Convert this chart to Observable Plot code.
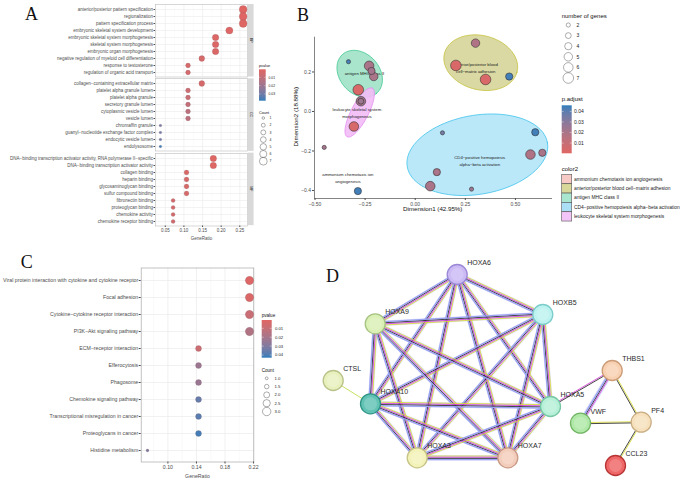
<!DOCTYPE html>
<html>
<head>
<meta charset="utf-8">
<script src="https://cdn.jsdelivr.net/npm/d3@7"></script>
<script src="https://cdn.jsdelivr.net/npm/@observablehq/plot@0.6"></script>
<style>
html,body{margin:0;padding:0;background:#fff;}
#root{position:relative;width:685px;height:481px;overflow:hidden;background:#fff;font-family:"Liberation Sans",Arial,sans-serif;}
#root svg{display:block;overflow:visible;}
</style>
</head>
<body>
<div id="root"></div>
<script>
// ================= DATA =================
// Panel A : GO enrichment (BP / CC / MF)
const bpTerms = ["anterior/posterior pattern specification","regionalization","pattern specification process","embryonic skeletal system development","embryonic skeletal system morphogenesis","skeletal system morphogenesis","embryonic organ morphogenesis","negative regulation of myeloid cell differentiation","response to testosterone","regulation of organic acid transport"];
const bpRatio = [0.259,0.259,0.259,0.222,0.185,0.185,0.185,0.148,0.111,0.111];
const bpCount = [7,7,7,6,5,5,5,4,3,3];
const bpP = [0.0006,0.0008,0.0009,0.0015,0.002,0.002,0.0022,0.004,0.004,0.005];

const ccTerms = ["collagen\u2212containing extracellular matrix","platelet alpha granule lumen","platelet alpha granule","secretory granule lumen","cytoplasmic vesicle lumen","vesicle lumen","chromaffin granule","guanyl\u2212nucleotide exchange factor complex","endocytic vesicle lumen","endolysosome"];
const ccRatio = [0.148,0.111,0.111,0.111,0.111,0.111,0.037,0.037,0.037,0.037];
const ccCount = [4,3,3,3,3,3,1,1,1,1];
const ccP = [0.004,0.007,0.008,0.010,0.012,0.012,0.029,0.030,0.031,0.037];

const mfTerms = ["DNA\u2212binding transcription activator activity, RNA polymerase II\u2212specific","DNA\u2212binding transcription activator activity","collagen binding","heparin binding","glycosaminoglycan binding","sulfur compound binding","fibronectin binding","proteoglycan binding","chemokine activity","chemokine receptor binding"];
const mfRatio = [0.179,0.179,0.107,0.107,0.107,0.107,0.071,0.071,0.071,0.071];
const mfCount = [5,5,3,3,3,3,2,2,2,2];
const mfP = [0.001,0.001,0.003,0.004,0.004,0.004,0.005,0.005,0.005,0.006];

const ontologies = ["BP","CC","MF"];
const aTicks = [0.05,0.10,0.15,0.20,0.25];
const aMinorTicks = [0.025,0.075,0.125,0.175,0.225];
const aPTicks = [0.01,0.02,0.03];
const aCountLevels = [1,2,3,4,5,6,7];

// Panel B : cluster map
const bX = [0.301,0.203,0.351,0.469,-0.333,-0.230,-0.218,-0.207,-0.284,-0.271,-0.271,-0.306,-0.454,-0.286,0.136,0.599,0.575,0.634,0.108,0.075,0.281];
const bY = [0.346,0.233,0.162,0.177,0.252,0.231,0.205,0.177,0.110,0.052,0.052,-0.076,-0.182,-0.403,-0.108,-0.105,-0.218,-0.209,-0.307,-0.378,-0.393];
const bGenes = [5,7,7,4,2,6,4,5,7,6,3,6,2,4,2,4,6,4,4,6,2];
const bPadj = [0.018,0.003,0.003,0.044,0.043,0.02,0.022,0.02,0.003,0.022,0.024,0.004,0.022,0.044,0.035,0.044,0.018,0.02,0.02,0.02,0.025];
const bXTicks = [-0.50,-0.25,0.00,0.25,0.50];
const bYTicks = [-0.4,-0.2,0.0,0.2];
const bGeneLevels = [2,3,4,5,6,7];
const bPTicks = [0.01,0.02,0.03,0.04];

const clusterNames = ["ammonium chemotaxis ion angiogenesis","anterior/posterior blood cell\u2212matrix adhesion","antigen MHC class II","CD4\u2212positive hemopoiesis alpha\u2212beta activation","leukocyte skeletal system morphogenesis"];
const clusterKeyFill = ["#f7cac6","#d9d89b","#a8e6cf","#aadff5","#f3c4f7"];
const clusterLabelText = ["ammonium chemotaxis ion\nangiogenesis","anterior/posterior blood\ncell\u2212matrix adhesion","antigen MHC class II","CD4\u2212positive hemopoiesis\nalpha\u2212beta activation","leukocyte skeletal system\nmorphogenesis"];
const clusterLabelX = [-0.336,0.302,-0.253,0.322,-0.291];
const clusterLabelY = [-0.333,0.224,0.197,-0.247,-0.004];

const hullCx = [0.327,-0.277,-0.277,0.31];
const hullCy = [0.247,0.191,-0.005,-0.219];
const hullA = [0.187,0.13,0.138,0.355];
const hullB = [0.137,0.10,0.043,0.20];
const hullAngle = [-15,-50,63,10];
const hullFill = ["#d6d59a","#9fe2c6","#f2bdf6","#b2e5f8"];
const hullStroke = ["#c5c13b","#3fc891","#e48bef","#3fc3ec"];

// Panel C : KEGG enrichment
const cTerms = ["Viral protein interaction with cytokine and cytokine receptor","Focal adhesion","Cytokine\u2212cytokine receptor interaction","PI3K\u2212Akt signaling pathway","ECM\u2212receptor interaction","Efferocytosis","Phagosome","Chemokine signaling pathway","Transcriptional misregulation in cancer","Proteoglycans in cancer","Histidine metabolism"];
const cRatio = [0.2143,0.2143,0.2143,0.2143,0.1429,0.1429,0.1429,0.1429,0.1429,0.1429,0.0714];
const cCount = [3,3,3,3,2,2,2,2,2,2,1];
const cP = [0.002,0.003,0.009,0.017,0.008,0.023,0.024,0.036,0.038,0.041,0.030];
const cTicks = [0.10,0.14,0.18,0.22];
const cMinorTicks = [0.08,0.12,0.16,0.20];
const cPTicks = [0.01,0.02,0.03,0.04];
const cCountLevels = [1.0,1.5,2.0,2.5,3.0];

// Panel D : PPI network
const nodeNames = ["HOXA6","HOXB5","HOXA9","CTSL","HOXA10","HOXA5","HOXA3","HOXA7","THBS1","VWF","PF4","CCL23"];
const nodeX = [456.7,542.3,374.7,332.7,370,550,416.7,507.3,611.7,580,640.7,615];
const nodeY = [274,314,323.3,380,403.3,406,457.3,457.3,370,422.7,421.7,465];
const nodeFill = ["#cbbaf4","#bcf2ef","#daf0b5","#e8f0bd","#62c3b5","#b6f0d8","#f3f2b8","#f3cdbb","#f8d1b2","#b0e8a8","#f7e1bd","#ef6767"];
const nodeStroke = ["#9a88d6","#7ccdca","#a7c383","#b9c38a","#2f9486","#77c6a4","#c6c386","#c99a86","#cc9c78","#72b565","#c9ad83","#b83434"];
const edgeFrom = ["HOXA6","HOXA6","HOXA6","HOXA6","HOXA6","HOXA6","HOXB5","HOXB5","HOXB5","HOXB5","HOXB5","HOXA9","HOXA9","HOXA9","HOXA9","HOXA10","HOXA10","HOXA10","HOXA5","HOXA5","HOXA3","CTSL","HOXA5","THBS1","THBS1","VWF","PF4"];
const edgeTo   = ["HOXB5","HOXA9","HOXA10","HOXA5","HOXA3","HOXA7","HOXA9","HOXA10","HOXA5","HOXA3","HOXA7","HOXA10","HOXA5","HOXA3","HOXA7","HOXA5","HOXA3","HOXA7","HOXA3","HOXA7","HOXA7","HOXA10","THBS1","VWF","PF4","PF4","CCL23"];
const edgeKinds = ["yel,mag,blk,lav","yel,mag,blk,lav","yel,mag,blk,lav","yel,mag,blk,lav","yel,mag,blk,lav","yel,mag,blk,lav","yel,mag,blk,lav","yel,mag,blk,lav","yel,mag,blk,lav","yel,mag,blk,lav","yel,mag,blk,lav","yel,mag,blk,lav","yel,mag,blk,lav","yel,mag,blk,lav","yel,mag,blk,lav","yel,mag,blk,lav","yel,mag,blk,lav","yel,mag,blk,lav","yel,mag,blk,lav","yel,mag,blk,lav","yel,mag,blk,lav","grn","mag,blk","mag,blk,lav","yel,blk","yel,blk","yel,blk"];

// ================= HELPERS =================
const FONT = '"Liberation Sans", Arial, sans-serif';
const RED = "#e06663", BLUE = "#327eba";
const ramp = d3.interpolateLab(RED, BLUE);
const root = document.getElementById("root");
function place(node, left, top) {
  const w = document.createElement("div");
  w.style.position = "absolute"; w.style.left = left + "px"; w.style.top = top + "px";
  w.appendChild(node); root.appendChild(w);
}
const baseStyle = {background: "transparent", fontFamily: FONT, color: "#4d4d4d", overflow: "visible"};

// ================= PANEL A =================
const A_X = [0.0237, 0.2707];
const A_P = [0.0004, 0.038];
const aPanelH = 72.5, aGap = 1.8, aTop0 = 4.05;
const aR = {type: "sqrt", domain: [1, 7], range: [1.3, 3.9]};
function panelA(terms, ratio, count, pv, idx) {
  const rows = terms.map((t, i) => ({term: t, ratio: ratio[i], count: count[i], p: pv[i]}));
  const frameTop = aTop0 + idx * (aPanelH + aGap);
  const showX = idx === 2;
  const mt = 2, mb = showX ? 16 : 1;
  const svg = Plot.plot({
    width: 248, height: mt + aPanelH + mb,
    marginLeft: 155, marginRight: 1, marginTop: mt, marginBottom: mb,
    style: {...baseStyle, fontSize: "4.5px"},
    x: {domain: A_X, axis: null},
    y: {type: "point", domain: terms, padding: 0.6, axis: null},
    r: aR,
    color: {type: "linear", domain: A_P, range: [RED, BLUE], interpolate: d3.interpolateLab, clamp: true},
    marks: [
      Plot.ruleX(aMinorTicks, {stroke: "#f2f2f2", strokeWidth: 0.35}),
      Plot.ruleX(aTicks, {stroke: "#ebebeb", strokeWidth: 0.6}),
      Plot.ruleY(terms, {stroke: "#ebebeb", strokeWidth: 0.6}),
      Plot.frame({stroke: "#bdbdbd", strokeWidth: 0.6}),
      Plot.dot(rows, {x: "ratio", y: "term", r: "count", fill: "p", stroke: "#6a4a50", strokeWidth: 0.25, strokeOpacity: 0.6}),
      Plot.axisY({tickSize: 1.5, tickPadding: 1, fontSize: 4.5, label: null}),
      showX ? Plot.axisX({ticks: aTicks, tickFormat: d3.format(".2f"), tickSize: 1.5, tickPadding: 1, fontSize: 4.5,
        label: "GeneRatio", labelAnchor: "center", labelArrow: "none", labelOffset: 14}) : null
    ]
  });
  place(svg, 0, frameTop - mt);
}
panelA(bpTerms, bpRatio, bpCount, bpP, 0);
panelA(ccTerms, ccRatio, ccCount, ccP, 1);
panelA(mfTerms, mfRatio, mfCount, mfP, 2);

// ================= PANEL B =================
const B_X = [-0.5025, 0.685], B_Y = [-0.4405, 0.376];
const B_P = [0.0003, 0.0458];
const bR = {type: "sqrt", domain: [2, 7], range: [2.1, 5.3]};
const bPts = bX.map((x, i) => ({x, y: bY[i], g: bGenes[i], p: bPadj[i]}));
const hullPts = [];
hullCx.forEach((cx, h) => {
  const th = hullAngle[h] * Math.PI / 180;
  for (let deg = 0; deg <= 360; deg += 4) {
    const t = deg * Math.PI / 180;
    const ex = hullA[h] * Math.cos(t), ey = hullB[h] * Math.sin(t);
    hullPts.push({h, x: cx + ex * Math.cos(th) - ey * Math.sin(th), y: hullCy[h] + ex * Math.sin(th) + ey * Math.cos(th)});
  }
});
const bLabels = clusterLabelText.map((t, i) => ({t, x: clusterLabelX[i], y: clusterLabelY[i]}));
const bSvg = Plot.plot({
  width: 265, height: 190, marginLeft: 24, marginRight: 3, marginTop: 6.7, marginBottom: 22,
  style: {...baseStyle, fontSize: "5px", color: "#333"},
  x: {domain: B_X, axis: null},
  y: {domain: B_Y, axis: null},
  r: bR,
  color: {type: "linear", domain: B_P, range: [RED, BLUE], interpolate: d3.interpolateLab, clamp: true},
  marks: [
    ...hullFill.map((f, h) => Plot.line(hullPts.filter(d => d.h === h), {x: "x", y: "y", fill: f, fillOpacity: 0.9, stroke: hullStroke[h], strokeWidth: 0.8, curve: "linear-closed"})),
    Plot.text(bLabels, {x: "x", y: "y", text: "t", fontSize: 4.3, fill: "#1a1a1a", lineHeight: 1.55}),
    Plot.dot(bPts, {x: "x", y: "y", r: "g", fill: "p", stroke: "#2b2b2b", strokeWidth: 0.55}),
    Plot.ruleX([B_X[0]], {stroke: "#333", strokeWidth: 0.6}),
    Plot.ruleY([B_Y[0]], {stroke: "#333", strokeWidth: 0.6}),
    Plot.axisX({ticks: bXTicks, tickFormat: d3.format(".2f"), tickSize: 2, tickPadding: 1.5, fontSize: 5, color: "#4d4d4d", label: null}),
    Plot.axisY({ticks: bYTicks, tickFormat: d3.format(".1f"), tickSize: 2, tickPadding: 1.5, fontSize: 5, color: "#4d4d4d", label: null})
  ]
});
place(bSvg, 290, 30);

// ================= PANEL C =================
const C_X = [0.0626, 0.2203];
const C_P = [0.0007, 0.043];
const cR = {type: "sqrt", domain: [1, 3], range: [1.4, 4.2]};
const cRows = cTerms.map((t, i) => ({term: t, ratio: cRatio[i], count: cCount[i], p: cP[i]}));
const cSvg = Plot.plot({
  width: 256, height: 221, marginLeft: 140.7, marginRight: 2.7, marginTop: 7.5, marginBottom: 19.5,
  style: {...baseStyle, fontSize: "5.2px"},
  x: {domain: C_X, axis: null},
  y: {type: "point", domain: cTerms, padding: 0.6, axis: null},
  r: cR,
  color: {type: "linear", domain: C_P, range: [RED, BLUE], interpolate: d3.interpolateLab, clamp: true},
  marks: [
    Plot.ruleX(cMinorTicks, {stroke: "#f2f2f2", strokeWidth: 0.4}),
    Plot.ruleX(cTicks, {stroke: "#ebebeb", strokeWidth: 0.7}),
    Plot.ruleY(cTerms, {stroke: "#ebebeb", strokeWidth: 0.7}),
    Plot.frame({stroke: "#a8a8a8", strokeWidth: 0.7}),
    Plot.dot(cRows, {x: "ratio", y: "term", r: "count", fill: "p", stroke: "#6a4a50", strokeWidth: 0.3, strokeOpacity: 0.6}),
    Plot.axisY({tickSize: 2, tickPadding: 1, fontSize: 5.2, label: null}),
    Plot.axisX({ticks: cTicks, tickFormat: d3.format(".2f"), tickSize: 2, tickPadding: 1, fontSize: 5.2,
      label: "GeneRatio", labelAnchor: "center", labelArrow: "none", labelOffset: 16})
  ]
});
place(cSvg, 0, 260);

// ================= PANEL D =================
const nodes = nodeNames.map((n, i) => ({n, x: nodeX[i], y: nodeY[i], f: nodeFill[i], s: nodeStroke[i]}));
const nIdx = new Map(nodeNames.map((n, i) => [n, i]));
const chColor = {lav: "#9aa2f2", yel: "#d9dc35", mag: "#d63fd8", blk: "#262626", grn: "#bcdc45"};
const halos = [], strands = [];
edgeFrom.forEach((f, i) => {
  const a = nIdx.get(f), b = nIdx.get(edgeTo[i]);
  const x1 = nodeX[a], y1 = nodeY[a], x2 = nodeX[b], y2 = nodeY[b];
  const len = Math.hypot(x2 - x1, y2 - y1), nx = -(y2 - y1) / len, ny = (x2 - x1) / len;
  const ch = edgeKinds[i].split(",");
  if (ch.includes("lav")) halos.push({x1, y1, x2, y2});
  ch.forEach((c, k) => {
    const off = (k - (ch.length - 1) / 2) * 1.15;
    strands.push({x1: x1 + nx * off, y1: y1 + ny * off, x2: x2 + nx * off, y2: y2 + ny * off, c: chColor[c], w: c === "lav" ? 1.3 : 0.85});
  });
});
const dSvg = Plot.plot({
  width: 385, height: 231, marginLeft: 0, marginRight: 0, marginTop: 0, marginBottom: 0,
  style: {...baseStyle, fontSize: "7px"},
  x: {domain: [300, 685], range: [0, 385], axis: null},
  y: {domain: [250, 481], range: [0, 231], axis: null},
  color: {type: "identity"},
  marks: [
    Plot.link(halos, {x1: "x1", y1: "y1", x2: "x2", y2: "y2", stroke: "#b9bdf7", strokeWidth: 5.5, strokeOpacity: 0.45}),
    Plot.link(strands, {x1: "x1", y1: "y1", x2: "x2", y2: "y2", stroke: "c", strokeWidth: "w"}),
    Plot.dot(nodes, {x: "x", y: "y", r: 10, fill: "f", stroke: "s", strokeWidth: 1.3}),
    Plot.dot(nodes, {x: "x", y: "y", r: 6.5, fill: "#ffffff", fillOpacity: 0.18}),
    Plot.text(nodes, {x: "x", y: "y", text: "n", dx: 10, dy: -11.7, textAnchor: "start", fontSize: 7, fill: "#2a2a2a"})
  ]
});
place(dSvg, 300, 250);

// ================= OVERLAY: letters, strips, axis titles, legends =================
const ov = d3.create("svg").attr("width", 685).attr("height", 481)
  .style("position", "absolute").style("left", "0px").style("top", "0px")
  .style("font-family", FONT).style("pointer-events", "none");
const defs = ov.append("defs");
function grad(id, topColorT, botColorT) {
  const g = defs.append("linearGradient").attr("id", id).attr("x1", 0).attr("y1", 0).attr("x2", 0).attr("y2", 1);
  d3.range(0, 1.0001, 0.1).forEach(s => g.append("stop").attr("offset", s).attr("stop-color", ramp(topColorT + (botColorT - topColorT) * s)));
}
// panel letters
[["A", 25, 20], ["B", 297, 21], ["C", 20.7, 268], ["D", 326, 281.7]].forEach(([t, x, y]) =>
  ov.append("text").attr("x", x).attr("y", y).attr("font-family", '"Liberation Serif","DejaVu Serif",serif').attr("font-size", 18).attr("fill", "#111").text(t));

// B axis titles
ov.append("text").attr("x", 432.7).attr("y", 209.3).attr("dy", "0.35em").attr("text-anchor", "middle").attr("font-size", 6.2).attr("fill", "#111").text("Dimension1 (42.95%)");
ov.append("text").attr("transform", "translate(295.7,116.7) rotate(-90)").attr("dy", "0.35em").attr("text-anchor", "middle").attr("font-size", 6.2).attr("fill", "#111").text("Dimension2 (18.88%)");

// A strips
ontologies.forEach((o, i) => {
  const y0 = aTop0 + i * (aPanelH + aGap);
  ov.append("rect").attr("x", 248).attr("y", y0).attr("width", 5.6).attr("height", aPanelH).attr("fill", "#d9d9d9");
  ov.append("text").attr("transform", `translate(${250.8},${y0 + aPanelH / 2}) rotate(90)`).attr("text-anchor", "middle")
    .attr("dy", "0.35em").attr("font-size", 3.6).attr("fill", "#1a1a1a").text(o);
});

// legends
function colorbar(id, x, y, w, h, domain, ticks, topHigh, labX, fs) {
  const t0 = topHigh ? 1 : 0, t1 = topHigh ? 0 : 1;
  grad(id, t0, t1);
  ov.append("rect").attr("x", x).attr("y", y).attr("width", w).attr("height", h).attr("fill", `url(#${id})`);
  const sc = d3.scaleLinear().domain(domain).range(topHigh ? [y + h, y] : [y, y + h]);
  ticks.forEach(v => {
    const yy = sc(v);
    ov.append("line").attr("x1", x).attr("x2", x + w * 0.2).attr("y1", yy).attr("y2", yy).attr("stroke", "#fff").attr("stroke-width", 0.4);
    ov.append("line").attr("x1", x + w * 0.8).attr("x2", x + w).attr("y1", yy).attr("y2", yy).attr("stroke", "#fff").attr("stroke-width", 0.4);
    ov.append("text").attr("x", labX).attr("y", yy).attr("dy", "0.35em").attr("font-size", fs).attr("fill", "#222").text(d3.format(".2f")(v));
  });
}
function sizeLegend(levels, rScale, cx, y0, step, labX, fs, fmt) {
  const rr = d3.scaleSqrt().domain(rScale.domain).range(rScale.range);
  levels.forEach((v, i) => {
    const yy = y0 + i * step;
    ov.append("circle").attr("cx", cx).attr("cy", yy).attr("r", rr(v)).attr("fill", "none").attr("stroke", "#333").attr("stroke-width", 0.4);
    ov.append("text").attr("x", labX).attr("y", yy).attr("dy", "0.35em").attr("font-size", fs).attr("fill", "#222").text(fmt(v));
  });
}
function title(t, x, y, fs) {
  ov.append("text").attr("x", x).attr("y", y).attr("dy", "0.35em").attr("font-size", fs).attr("fill", "#111").text(t);
}
title("pvalue", 259, 66, 3.8);
colorbar("gA", 259, 69.3, 6.7, 31.4, A_P, aPTicks, false, 268.5, 3.4);
title("Count", 259, 112.3, 3.8);
sizeLegend(aCountLevels, aR, 263.3, 118, 7.2, 269.5, 3.4, d3.format("d"));

title("number of genes", 561.7, 15.7, 6);
sizeLegend(bGeneLevels, bR, 568.3, 25, 10.6, 576.5, 5, d3.format("d"));
title("p.adjust", 561.7, 99.3, 6);
colorbar("gB", 561.7, 105.3, 10, 48, B_P, bPTicks, true, 574, 5);
title("color2", 561.7, 168.7, 6);
clusterNames.forEach((n, i) => {
  const yy = 174.4 + i * 9.33;
  ov.append("rect").attr("x", 561.7).attr("y", yy).attr("width", 10).attr("height", 9.33).attr("fill", clusterKeyFill[i]).attr("stroke", "#555").attr("stroke-width", 0.6);
  ov.append("text").attr("x", 574).attr("y", yy + 4.66).attr("dy", "0.35em").attr("font-size", 4.9).attr("fill", "#222").text(n);
});

title("pvalue", 261.7, 315.7, 4.6);
colorbar("gC", 261.7, 320, 10, 37.7, C_P, cPTicks, false, 275, 4.2);
title("Count", 261.7, 370, 4.6);
sizeLegend(cCountLevels, cR, 266.7, 378.3, 8.3, 274.5, 4.2, d3.format(".1f"));

root.appendChild(ov.node());
</script>
</body>
</html>
